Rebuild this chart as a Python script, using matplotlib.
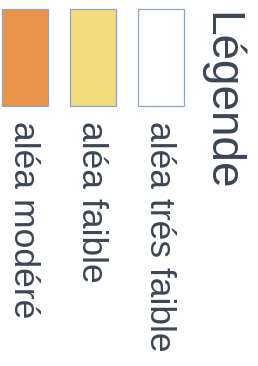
import matplotlib
matplotlib.use("Agg")
import matplotlib.pyplot as plt
from matplotlib.patches import Rectangle

# legend entries, left to right
labels = ["aléa modéré", "aléa faible", "aléa trés faible"]
colors = ["#e9934a", "#f3dc7c", "#ffffff"]
title = "Légende"

fig = plt.figure(figsize=(2.58, 3.66), dpi=100)
ax = fig.add_axes([0, 0, 1, 1])
ax.set_xlim(0, 258)
ax.set_ylim(366, 0)
ax.axis("off")

x0 = [2, 70, 138]
for i, (lab, col) in enumerate(zip(labels, colors)):
    ax.add_patch(Rectangle((x0[i], 9), 46, 97, facecolor=col,
                           edgecolor="#8fa3c9", lw=0.9))
    ax.text(x0[i] + 12, 121, lab, rotation=-90, rotation_mode="anchor",
            ha="left", va="baseline", fontsize=25.5, color="#3a4556",
            family=["Liberation Sans", "DejaVu Sans"])

ax.text(208, 12, title, rotation=-90, rotation_mode="anchor",
        ha="left", va="baseline", fontsize=33, color="#3a4556",
        family=["Liberation Sans", "DejaVu Sans"])

fig.savefig("out.png", dpi=100)
